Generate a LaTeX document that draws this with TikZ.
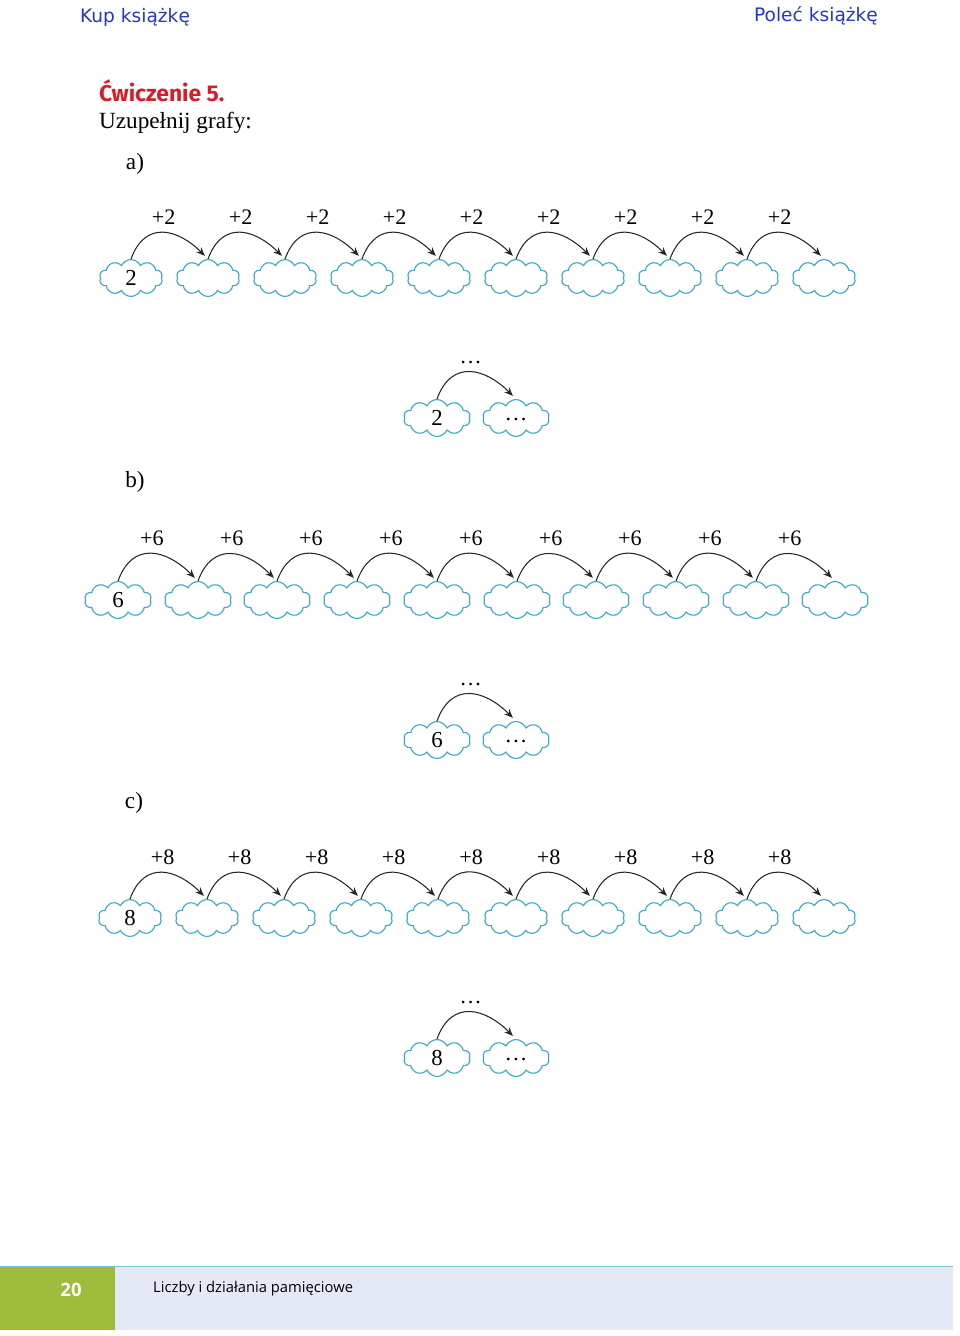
\documentclass[tikz,border=0pt]{standalone}
\usepackage{fontspec}
\setmainfont{Liberation Serif}
\newfontfamily\headfont{DejaVu Sans}
\newfontfamily\titlefont{Fira Sans}
\newfontfamily\footfont{Open Sans}
\usetikzlibrary{shapes.symbols,arrows.meta}

\definecolor{cloudblue}{RGB}{60,170,200}
\definecolor{linkblue}{RGB}{35,55,200}
\definecolor{titlered}{RGB}{215,30,40}
\definecolor{footgreen}{RGB}{158,187,58}
\definecolor{footgray}{RGB}{228,233,245}

\tikzset{
  cloudbox/.style={cloud, cloud puffs=10, cloud puff arc=130, aspect=1.8,
    draw=cloudblue, line width=0.65pt, inner sep=0pt,
    minimum width=36pt, minimum height=21pt,
    font=\fontsize{13}{15}\selectfont},
  widebox/.style={cloudbox, minimum width=38pt},
  jump/.style={-{Stealth[length=5pt,width=4pt]}, line width=0.6pt, black!85,
    shorten >=2.5pt, looseness=1.4},
  jumplabel/.style={above=1pt, font=\fontsize{12.6}{15}\selectfont, black},
  partlabel/.style={font=\fontsize{13.2}{16}\selectfont}
}

\begin{document}
\begin{tikzpicture}[x=0.02cm, y=0.02cm]
			%%%%% START %%%%%
			\useasboundingbox (0, 0) rectangle (960, -1336);
			
			\node[text=linkblue, font=\headfont\fontsize{10.6}{12}\selectfont] (buy) at (135, -17) {Kup książkę};
			\node[text=linkblue, font=\headfont\fontsize{10.6}{12}\selectfont] (rec) at (816, -16) {Poleć książkę};
			
			\node[anchor=west, text=titlered, font=\titlefont\bfseries\fontsize{13}{15}\selectfont] (title) at (93, -91) {Ćwiczenie 5.};
			\node[anchor=west, partlabel] (task) at (93, -123) {Uzupełnij grafy:};
			
			%%%%% a) %%%%%
			\node[partlabel] (pa) at (135, -164) {a)};
			
			\node[cloudbox] (a0) at (131, -278) {2};
			\node[cloudbox] (a1) at (208, -278) {};
			\node[cloudbox] (a2) at (285, -278) {};
			\node[cloudbox] (a3) at (362, -278) {};
			\node[cloudbox] (a4) at (439, -278) {};
			\node[cloudbox] (a5) at (516, -278) {};
			\node[cloudbox] (a6) at (593, -278) {};
			\node[cloudbox] (a7) at (670, -278) {};
			\node[cloudbox] (a8) at (747, -278) {};
			\node[cloudbox] (a9) at (824, -278) {};
			
			\draw[jump] (a0.north) to[out=70, in=135] node[jumplabel] {+2} (a1.north);
			\draw[jump] (a1.north) to[out=70, in=135] node[jumplabel] {+2} (a2.north);
			\draw[jump] (a2.north) to[out=70, in=135] node[jumplabel] {+2} (a3.north);
			\draw[jump] (a3.north) to[out=70, in=135] node[jumplabel] {+2} (a4.north);
			\draw[jump] (a4.north) to[out=70, in=135] node[jumplabel] {+2} (a5.north);
			\draw[jump] (a5.north) to[out=70, in=135] node[jumplabel] {+2} (a6.north);
			\draw[jump] (a6.north) to[out=70, in=135] node[jumplabel] {+2} (a7.north);
			\draw[jump] (a7.north) to[out=70, in=135] node[jumplabel] {+2} (a8.north);
			\draw[jump] (a8.north) to[out=70, in=135] node[jumplabel] {+2} (a9.north);
			
			\node[widebox] (ax) at (437, -418) {2};
			\node[widebox] (ay) at (516, -418) {\raisebox{-3pt}{\dots}};
			\draw[jump] (ax.north) to[out=70, in=135] node[jumplabel] {\dots} (ay.north);
			
			%%%%% b) %%%%%
			\node[partlabel] (pb) at (135, -482) {b)};
			
			\node[widebox] (b0) at (118, -600) {6};
			\node[widebox] (b1) at (198, -600) {};
			\node[widebox] (b2) at (277, -600) {};
			\node[widebox] (b3) at (357, -600) {};
			\node[widebox] (b4) at (437, -600) {};
			\node[widebox] (b5) at (517, -600) {};
			\node[widebox] (b6) at (596, -600) {};
			\node[widebox] (b7) at (676, -600) {};
			\node[widebox] (b8) at (756, -600) {};
			\node[widebox] (b9) at (835, -600) {};
			
			\draw[jump] (b0.north) to[out=70, in=135] node[jumplabel] {+6} (b1.north);
			\draw[jump] (b1.north) to[out=70, in=135] node[jumplabel] {+6} (b2.north);
			\draw[jump] (b2.north) to[out=70, in=135] node[jumplabel] {+6} (b3.north);
			\draw[jump] (b3.north) to[out=70, in=135] node[jumplabel] {+6} (b4.north);
			\draw[jump] (b4.north) to[out=70, in=135] node[jumplabel] {+6} (b5.north);
			\draw[jump] (b5.north) to[out=70, in=135] node[jumplabel] {+6} (b6.north);
			\draw[jump] (b6.north) to[out=70, in=135] node[jumplabel] {+6} (b7.north);
			\draw[jump] (b7.north) to[out=70, in=135] node[jumplabel] {+6} (b8.north);
			\draw[jump] (b8.north) to[out=70, in=135] node[jumplabel] {+6} (b9.north);
			
			\node[widebox] (bx) at (437, -740) {6};
			\node[widebox] (by) at (516, -740) {\raisebox{-3pt}{\dots}};
			\draw[jump] (bx.north) to[out=70, in=135] node[jumplabel] {\dots} (by.north);
			
			%%%%% c) %%%%%
			\node[partlabel] (pc) at (134, -803) {c)};
			
			\node[cloudbox] (c0) at (130, -918) {8};
			\node[cloudbox] (c1) at (207, -918) {};
			\node[cloudbox] (c2) at (284, -918) {};
			\node[cloudbox] (c3) at (361, -918) {};
			\node[cloudbox] (c4) at (438, -918) {};
			\node[cloudbox] (c5) at (516, -918) {};
			\node[cloudbox] (c6) at (593, -918) {};
			\node[cloudbox] (c7) at (670, -918) {};
			\node[cloudbox] (c8) at (747, -918) {};
			\node[cloudbox] (c9) at (824, -918) {};
			
			\draw[jump] (c0.north) to[out=70, in=135] node[jumplabel] {+8} (c1.north);
			\draw[jump] (c1.north) to[out=70, in=135] node[jumplabel] {+8} (c2.north);
			\draw[jump] (c2.north) to[out=70, in=135] node[jumplabel] {+8} (c3.north);
			\draw[jump] (c3.north) to[out=70, in=135] node[jumplabel] {+8} (c4.north);
			\draw[jump] (c4.north) to[out=70, in=135] node[jumplabel] {+8} (c5.north);
			\draw[jump] (c5.north) to[out=70, in=135] node[jumplabel] {+8} (c6.north);
			\draw[jump] (c6.north) to[out=70, in=135] node[jumplabel] {+8} (c7.north);
			\draw[jump] (c7.north) to[out=70, in=135] node[jumplabel] {+8} (c8.north);
			\draw[jump] (c8.north) to[out=70, in=135] node[jumplabel] {+8} (c9.north);
			
			\node[widebox] (cx) at (437, -1058) {8};
			\node[widebox] (cy) at (516, -1058) {\raisebox{-3pt}{\dots}};
			\draw[jump] (cx.north) to[out=70, in=135] node[jumplabel] {\dots} (cy.north);
			
			%%%%% footer %%%%%
			\fill[footgray] (115, -1266) rectangle (953, -1330);
			\fill[footgreen] (0, -1266) rectangle (115, -1330);
			\draw[line width=0.5pt, color=cloudblue!70] (0, -1266) -- (953, -1266);
			\node[text=white, font=\footfont\bfseries\fontsize{10.5}{12}\selectfont] (page) at (71, -1290) {20};
			\node[anchor=west, font=\footfont\fontsize{8.4}{10}\selectfont] (foot) at (147, -1289) {Liczby i działania pamięciowe};
			
			%%%%% END %%%%%
\end{tikzpicture}
\end{document}
